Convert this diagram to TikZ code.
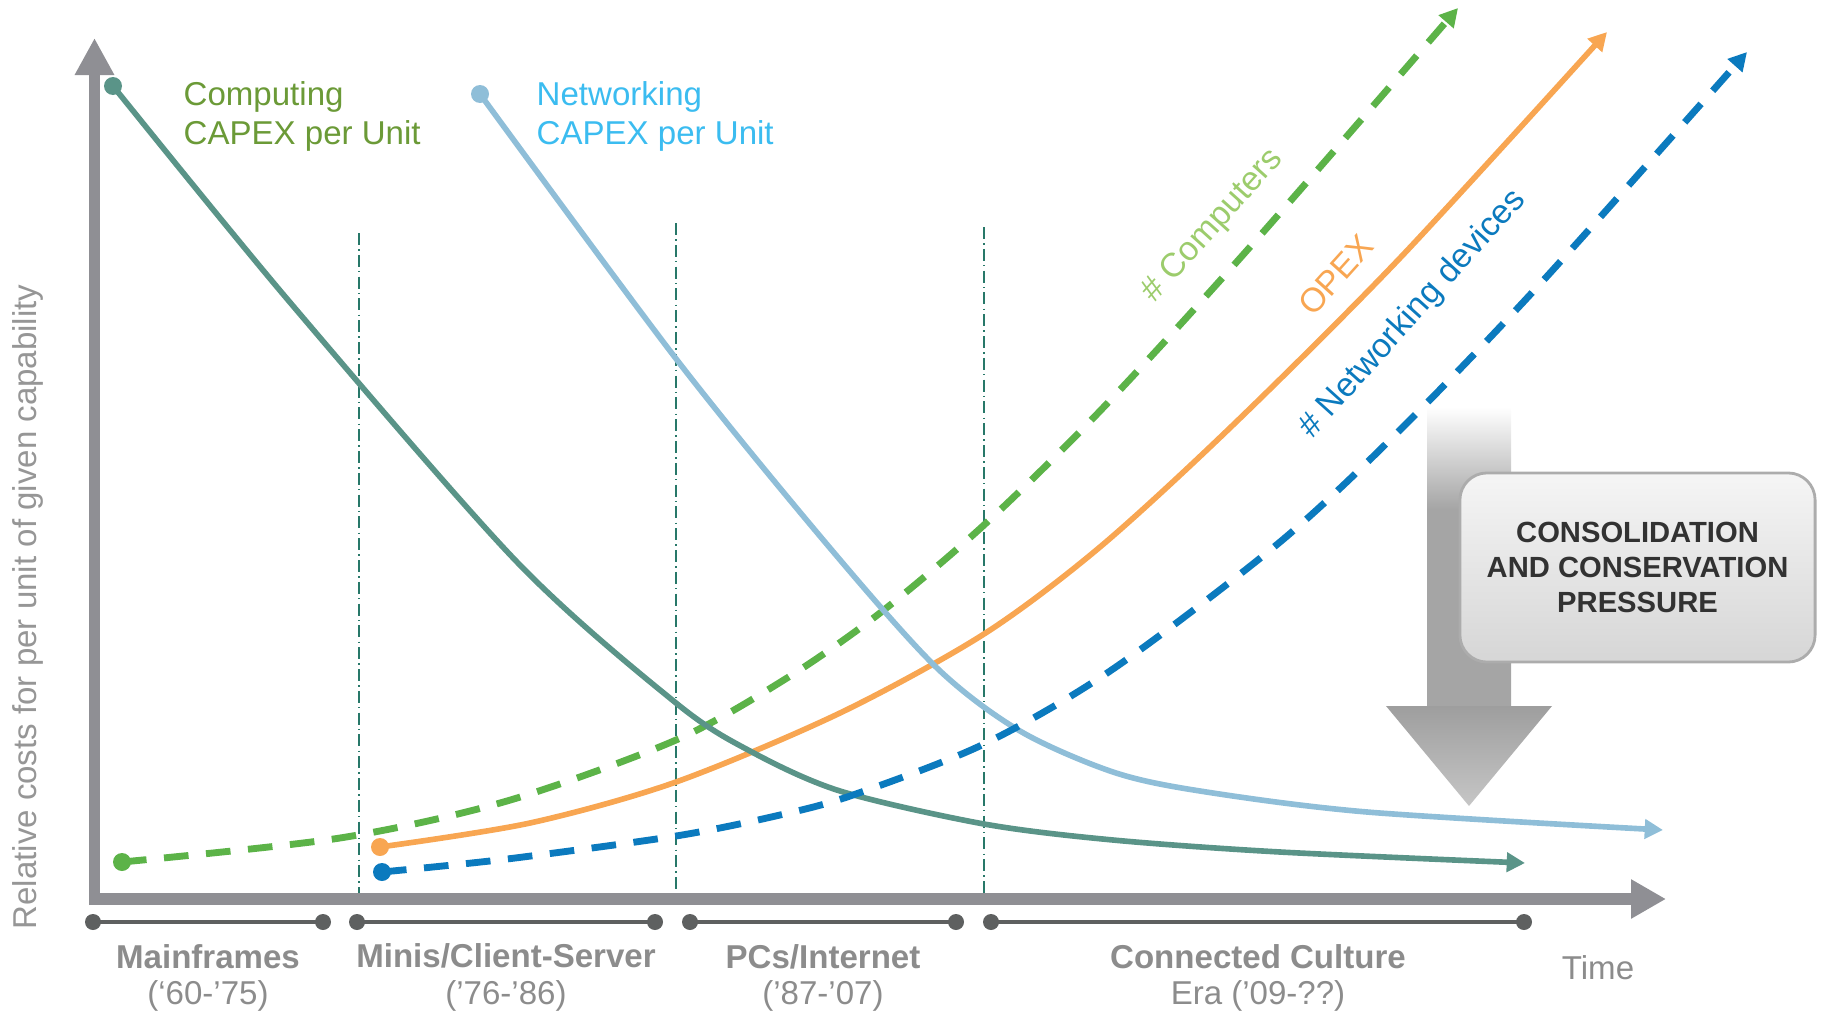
\documentclass[tikz,border=0pt]{standalone}
\usepackage{fontspec}
\setmainfont{Liberation Sans}
\usepackage{tikz}
\usetikzlibrary{arrows.meta,calc}

\definecolor{axisgray}{RGB}{143,143,148}
\definecolor{eragray}{RGB}{94,96,96}
\definecolor{labelgray}{RGB}{140,140,140}
\definecolor{ylabelgray}{RGB}{150,150,150}
\definecolor{compteal}{RGB}{90,148,136}
\definecolor{complabel}{RGB}{107,154,55}
\definecolor{netlight}{RGB}{143,190,216}
\definecolor{netlabel}{RGB}{59,188,240}
\definecolor{pcgreen}{RGB}{92,179,72}
\definecolor{pclabel}{RGB}{156,204,108}
\definecolor{opexorange}{RGB}{248,166,82}
\definecolor{devblue}{RGB}{11,122,190}
\definecolor{dividerteal}{RGB}{40,120,105}
\definecolor{pressgray}{RGB}{165,165,165}
\definecolor{headtop}{RGB}{158,158,158}
\definecolor{headbottom}{RGB}{198,198,198}
\definecolor{boxtop}{RGB}{245,245,245}
\definecolor{boxbottom}{RGB}{214,214,214}
\definecolor{boxedge}{RGB}{172,172,172}
\definecolor{boxtext}{RGB}{50,50,50}

\pgfdeclareverticalshading{shaftfade}{100bp}{color(0bp)=(pressgray); color(25bp)=(pressgray); color(58bp)=(pressgray); color(75bp)=(white); color(100bp)=(white)}

\tikzset{
  axis/.style={axisgray, line width=0.115cm},
  trend/.style={line width=1.6pt, -{Triangle[length=5.2pt,width=5.4pt]}},
  dashtrend/.style={trend, line width=1.95pt, dash pattern=on 7pt off 5pt},
  divider/.style={dividerteal, line width=0.45pt, dash pattern=on 3.4pt off 1.2pt on 0.4pt off 1.2pt},
  erabar/.style={eragray, line width=1.3pt},
  eralabel/.style={labelgray, font=\fontsize{9.4}{11}\selectfont\bfseries},
  erayears/.style={labelgray, font=\fontsize{9.4}{11}\selectfont},
  curvelabel/.style={font=\fontsize{9.4}{11.1}\selectfont, align=left, anchor=west, inner sep=0pt},
  slopelabel/.style={font=\fontsize{9.6}{11}\selectfont, rotate=48, inner sep=0pt},
  pressurebox/.style={draw=boxedge, line width=0.8pt, rounded corners=0.27cm,
    top color=boxtop, bottom color=boxbottom, minimum width=3.55cm, minimum height=1.89cm,
    align=center, text=boxtext, font=\fontsize{8.3}{10}\selectfont\bfseries},
}

\begin{document}
\begin{tikzpicture}[x=0.01cm, y=-0.01cm]
\useasboundingbox (0,0) rectangle (1824,1015);

\coordinate (compstart) at (113,86);
\coordinate (netstart) at (480,94);
\coordinate (pcstart) at (122,862);
\coordinate (opexstart) at (380,847);
\coordinate (devstart) at (382,872);

\foreach \x/\top in {359/233, 676/223, 984/227}
  \draw[divider] (\x,\top) -- (\x,893);

\draw[axis, -{Triangle[length=0.37cm,width=0.37cm]}] (94.5,905) -- (94.5,38);
\draw[axis, -{Triangle[length=0.35cm,width=0.37cm]}] (89,899) -- (1666,899);

\draw[dashtrend, pcgreen] plot[smooth, tension=0.5] coordinates {(122,862) (340,838) (507,801) (676,740) (787,678) (880,613) (984,525) (1100,411) (1250,247) (1458,8)};
\draw[trend, opexorange] plot[smooth, tension=0.5] coordinates {(380,847) (530,823) (676,782) (840,713) (984,634) (1100,547) (1233,425) (1400,258) (1607,32)};
\draw[trend, compteal] plot[smooth, tension=0.5] coordinates {(113,86) (288,300) (517,562) (676,703) (750,751) (840,791) (984,824) (1113,840) (1280,852) (1525,863)};
\draw[trend, netlight] plot[smooth, tension=0.5] coordinates {(480,94) (677,360) (830,548) (937,668) (1020,731) (1113,772) (1200,791) (1367,812) (1663,830)};
\draw[dashtrend, devblue] plot[smooth, tension=0.5] coordinates {(382,872) (507,859) (676,836) (780,815) (853,795) (984,744) (1113,669) (1280,542) (1400,430) (1540,284) (1747,52)};

\fill[compteal] (compstart) circle (9);
\fill[netlight] (netstart) circle (9);
\fill[pcgreen] (pcstart) circle (9);
\fill[opexorange] (opexstart) circle (9);
\fill[devblue] (devstart) circle (9);

\node[curvelabel, complabel] (complab) at (183,116) {Computing\\CAPEX per Unit};
\node[curvelabel, netlabel] (netlab) at (536,116) {Networking\\CAPEX per Unit};
\node[slopelabel, pclabel] (pclab) at (1213,226) {\# Computers};
\node[slopelabel, opexorange] (opexlab) at (1336,275) {OPEX};
\node[slopelabel, devblue] (devlab) at (1413,314) {\# Networking devices};

\shade[shading=shaftfade] (1427,407) rectangle (1511,707);
\shade[top color=headtop, bottom color=headbottom] (1386,706) -- (1552,706) -- (1469,806) -- cycle;
\node[pressurebox] (press) at (1637.5,567.5) {CONSOLIDATION\\AND CONSERVATION\\PRESSURE};

\coordinate (mfL) at (93,922);
\coordinate (mfR) at (323,922);
\coordinate (msL) at (357,922);
\coordinate (msR) at (655,922);
\coordinate (pcL) at (690,922);
\coordinate (pcR) at (956,922);
\coordinate (ccL) at (991,922);
\coordinate (ccR) at (1524,922);
\foreach \a/\b in {mfL/mfR, msL/msR, pcL/pcR, ccL/ccR} {
  \draw[erabar] (\a) -- (\b);
  \fill[eragray] (\a) circle (8) (\b) circle (8);
}

\node[eralabel] (mf) at (208,957) {Mainframes};
\node[erayears] (mfy) at (208,996) {(‘60-’75)};
\node[eralabel] (ms) at (506,956) {Minis/Client-Server};
\node[erayears] (msy) at (506,996) {(’76-’86)};
\node[eralabel] (pc) at (823,957) {PCs/Internet};
\node[erayears] (pcy) at (823,996) {(’87-’07)};
\node[eralabel] (cc) at (1258,957) {Connected Culture};
\node[erayears] (ccy) at (1258,996) {Era (’09-??)};
\node[erayears] (time) at (1598,968) {Time};

\node[ylabelgray, rotate=90, font=\fontsize{9.4}{11}\selectfont] (ylab) at (28,607) {Relative costs for per unit of given capability};
\end{tikzpicture}
\end{document}
